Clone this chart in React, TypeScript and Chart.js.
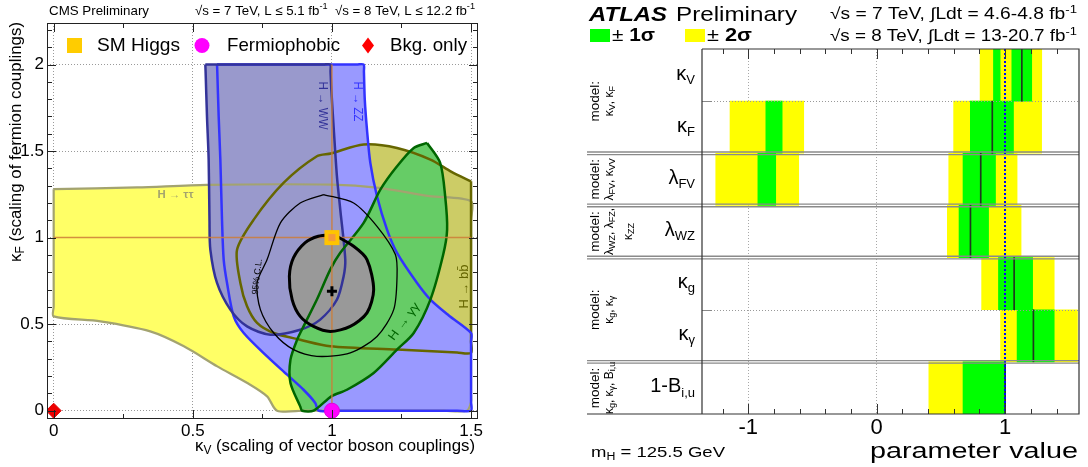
import React, { useEffect, useRef } from 'react';
import { Chart, registerables } from 'chart.js';

Chart.register(...registerables);

const FONT = '"Liberation Sans", Arial, Helvetica, sans-serif';

// ================= CMS panel: kappa_V vs kappa_F =================
const kVTicks = [0, 0.5, 1, 1.5];
const kFTicks = [0, 0.5, 1, 1.5, 2];

const tauContour: number[][] = [
  [0, 1.28], [0.3, 1.29], [0.55, 1.305], [1.0, 1.306], [1.17, 1.287], [1.35, 1.24], [1.5, 1.21],
  [1.5, 1.1], [1.5, 0.1], [1.5, 0.05], [1.485, 0], [1.4, 0], [0.9, 0], [0.803, 0],
  [0.767, 0.083], [0.696, 0.16], [0.588, 0.256], [0.468, 0.372], [0.347, 0.458], [0.168, 0.516],
  [0, 0.545], [0, 0.6], [0, 1.2], [0, 1.28],
];
const bbContour: number[][] = [
  [1.5, 1.325], [1.43, 1.38], [1.354, 1.451], [1.234, 1.518], [1.114, 1.538], [0.996, 1.486],
  [0.946, 1.47], [0.826, 1.316], [0.719, 1.104], [0.659, 0.93], [0.671, 0.738], [0.695, 0.603],
  [0.731, 0.507], [0.791, 0.449], [0.886, 0.41], [0.994, 0.372], [1.234, 0.353], [1.45, 0.336],
  [1.5, 0.334], [1.5, 0.4], [1.5, 1.25], [1.5, 1.325],
];
const zzContour: number[][] = [
  [0.587, 2.0], [0.588, 1.96], [0.593, 1.7], [0.599, 1.451], [0.605, 1.1], [0.611, 0.873], [0.623, 0.738],
  [0.647, 0.545], [0.683, 0.449], [0.767, 0.314], [0.839, 0.208], [0.898, 0.121], [0.94, 0.045],
  [0.952, 0], [1.0, 0], [1.45, 0], [1.5, 0], [1.5, 0.05], [1.5, 0.4], [1.5, 0.449], [1.42, 0.55],
  [1.354, 0.642], [1.306, 0.738], [1.234, 0.912], [1.198, 1.046], [1.162, 1.239], [1.138, 1.432],
  [1.126, 1.624], [1.118, 1.8], [1.115, 1.96], [1.114, 2.0], [1.09, 2.0], [0.65, 2.0], [0.61, 2.0], [0.587, 2.0],
];
const wwContour: number[][] = [
  [0.545, 2.0], [0.546, 1.96], [0.551, 1.7], [0.557, 1.451], [0.56, 1.1], [0.563, 0.931], [0.587, 0.738],
  [0.635, 0.584], [0.695, 0.487], [0.779, 0.439], [0.886, 0.468], [0.958, 0.526], [1.018, 0.642],
  [1.042, 0.776], [1.048, 0.873], [1.03, 1.162], [1.018, 1.354], [1.006, 1.643], [0.998, 1.85],
  [0.995, 1.96], [0.994, 2.0], [0.97, 2.0], [0.6, 2.0], [0.57, 2.0], [0.545, 2.0],
];
const gammaContour: number[][] = [
  [1.342, 1.547], [1.389, 1.432], [1.407, 1.239], [1.414, 1.046], [1.4, 0.902], [1.354, 0.642],
  [1.294, 0.449], [1.234, 0.353], [1.15, 0.218], [1.054, 0.121], [0.998, 0.083], [0.934, 0],
  [0.893, 0], [0.886, 0.025], [0.851, 0.16], [0.851, 0.295], [0.875, 0.41], [0.898, 0.487],
  [0.946, 0.642], [0.994, 0.815], [1.03, 0.912], [1.114, 1.085], [1.174, 1.277], [1.234, 1.412],
  [1.294, 1.518], [1.342, 1.547],
];
const comb68Contour: number[][] = [
  [1.006, 1.017], [1.078, 0.95], [1.126, 0.873], [1.15, 0.699], [1.126, 0.565], [1.066, 0.487],
  [0.994, 0.458], [0.934, 0.487], [0.886, 0.545], [0.857, 0.642], [0.847, 0.776], [0.862, 0.884],
  [0.904, 0.971], [0.951, 1.008], [1.006, 1.017],
];
const comb95Contour: number[][] = [
  [0.97, 1.249], [1.078, 1.2], [1.162, 1.065], [1.228, 0.902], [1.234, 0.776], [1.222, 0.584],
  [1.162, 0.429], [1.066, 0.334], [0.946, 0.314], [0.862, 0.353], [0.791, 0.449], [0.743, 0.584],
  [0.731, 0.738], [0.767, 0.873], [0.815, 1.085], [0.886, 1.2], [0.97, 1.249],
];
const smLineKV: number[][] = [[1, 0], [1, 2]];
const smLineKF: number[][] = [[0, 1], [1.5, 1]];
const smHiggs: number[][] = [[1, 1]];
const fermiophobic: number[][] = [[1, 0]];
const bkgOnly: number[][] = [[0, 0]];
const bestFitCMS: number[][] = [[1.0, 0.69]];

// ================= ATLAS panel =================
const paramNames = [['κ', 'V'], ['κ', 'F'], ['λ', 'FV'], ['λ', 'WZ'], ['κ', 'g'], ['κ', 'γ'], ['1-B', 'i,u']];
const paramBest = [1.13, 0.9, 0.81, 0.73, 1.07, 1.22, 1.0];
const oneSigma: (number[] | null)[] = [[1.052, 1.207], [0.729, 1.065], [0.672, 0.925], [0.641, 0.871], [0.948, 1.214], [1.093, 1.382], [0.672, 1.0]];
const oneSigmaB: (number[] | null)[] = [[0.909, 0.961], [-0.863, -0.736], [-0.925, -0.786], null, null, null, null];
const twoSigma: (number[] | null)[] = [[0.805, 1.285], [0.599, 1.284], [0.561, 1.093], [0.55, 1.124], [0.817, 1.382], [0.964, 1.563], [0.406, 1.0]];
const twoSigmaB: (number[] | null)[] = [null, [-1.142, -0.568], [-1.253, -0.607], null, null, null, null];
const paramTicks = [-1, 0, 1];

// ---------- text helper ----------
type Seg = { t: string; s: number; dy?: number; b?: boolean; i?: boolean };
const fontOf = (g: Seg) => `${g.i ? 'italic ' : ''}${g.b ? 'bold ' : ''}${g.s}px ${FONT}`;
function drawText(ctx: any, segs: Seg[], x: number, y: number, opt: any = {}) {
  const align = opt.align || 'left';
  ctx.save();
  ctx.translate(x, y);
  if (opt.rot) ctx.rotate(opt.rot);
  ctx.fillStyle = opt.color || '#000';
  ctx.textBaseline = 'middle';
  ctx.textAlign = 'left';
  const ws = segs.map((g) => { ctx.font = fontOf(g); return ctx.measureText(g.t).width; });
  const total = ws.reduce((p, q) => p + q, 0);
  const sx = opt.fit ? opt.fit / total : 1;
  const w = total * sx;
  const start = align === 'left' ? 0 : align === 'right' ? -w : -w / 2;
  ctx.translate(start, 0);
  ctx.scale(sx, 1);
  let cx = 0;
  segs.forEach((g, k) => { ctx.font = fontOf(g); ctx.fillText(g.t, cx, g.dy || 0); cx += ws[k]; });
  ctx.restore();
}

const toXY = (pts: number[][]) => pts.map(([x, y]) => ({ x, y }));
const contour = (pts: number[][], fill: string | null, line: string, lw: number, tension = 0.28) => ({
  data: toXY(pts), showLine: true, fill: fill ? 'shape' : false, backgroundColor: fill || 'rgba(0,0,0,0)',
  borderColor: line, borderWidth: lw, pointRadius: 0, tension, borderJoinStyle: 'round',
});
const marker = (pts: number[][], style: string, r: number, bg: string, bc: string, bw: number) => ({
  data: toXY(pts), showLine: false, fill: false, pointStyle: style, pointRadius: r,
  pointBackgroundColor: bg, pointBorderColor: bc, pointBorderWidth: bw,
});

const cmsDecor = {
  id: 'cmsDecor',
  afterDraw(chart: any) {
    const { ctx, chartArea: a } = chart;
    const xs = chart.scales.x, ys = chart.scales.y;
    const X = (v: number) => xs.getPixelForValue(v);
    const Y = (v: number) => ys.getPixelForValue(v);
    ctx.save();
    ctx.strokeStyle = '#222'; ctx.lineWidth = 1;
    ctx.beginPath();
    for (let k = 0; k <= 6; k++) {
      const px = Math.round(X(k * 0.25)) + 0.5; const L = k % 2 === 0 ? 9 : 5;
      ctx.moveTo(px, a.bottom); ctx.lineTo(px, a.bottom - L);
      ctx.moveTo(px, a.top); ctx.lineTo(px, a.top + L);
    }
    for (let k = 0; k <= 22; k++) {
      const py = Math.round(Y(k * 0.1)) + 0.5; const L = k % 5 === 0 ? 9 : 5;
      ctx.moveTo(a.left, py); ctx.lineTo(a.left + L, py);
      ctx.moveTo(a.right, py); ctx.lineTo(a.right - L, py);
    }
    ctx.stroke();
    ctx.strokeRect(Math.round(a.left) + 0.5, Math.round(a.top) + 0.5, Math.round(a.right - a.left) - 1, Math.round(a.bottom - a.top) - 1);

    // channel labels
    drawText(ctx, [{ t: 'H → ττ', s: 10, b: true }], X(0.373), Y(1.243), { color: '#a3a36e', fit: 36 });
    drawText(ctx, [{ t: 'H → WW', s: 12 }], X(0.966), Y(1.763), { align: 'center', rot: Math.PI / 2, color: '#333399', fit: 48 });
    drawText(ctx, [{ t: 'H → ZZ', s: 12 }], X(1.091), Y(1.786), { align: 'center', rot: Math.PI / 2, color: '#3333ff', fit: 40 });
    drawText(ctx, [{ t: 'H → γγ', s: 12 }], X(1.26), Y(0.514), { align: 'center', rot: -0.93, color: '#006600', fit: 44 });
    drawText(ctx, [{ t: 'H → bb\u0304', s: 12 }], X(1.476), Y(0.717), { align: 'center', rot: -Math.PI / 2, color: '#666600', fit: 44 });
    drawText(ctx, [{ t: '95% C.L.', s: 9 }], X(0.732), Y(0.775), { align: 'center', rot: -1.45, color: '#000', fit: 36 });

    // legend
    ctx.fillStyle = '#ffcc00'; ctx.fillRect(67, 38, 15, 15);
    ctx.fillStyle = '#ff00ff'; ctx.beginPath(); ctx.arc(202, 45.5, 7.5, 0, Math.PI * 2); ctx.fill();
    ctx.fillStyle = '#ff0000'; ctx.beginPath();
    ctx.moveTo(368, 37.5); ctx.lineTo(374, 45.5); ctx.lineTo(368, 53.5); ctx.lineTo(362, 45.5); ctx.closePath(); ctx.fill();
    drawText(ctx, [{ t: 'SM Higgs', s: 18.5 }], 97, 46, { fit: 83 });
    drawText(ctx, [{ t: 'Fermiophobic', s: 18.5 }], 227, 46, { fit: 113 });
    drawText(ctx, [{ t: 'Bkg. only', s: 18.5 }], 390, 46, { fit: 77 });

    // header
    drawText(ctx, [{ t: 'CMS Preliminary', s: 13 }], 49, 11, { fit: 100 });
    drawText(ctx, [
      { t: '√s = 7 TeV, L ≤ 5.1 fb', s: 13 }, { t: '-1', s: 9, dy: -4 },
      { t: '  √s = 8 TeV, L ≤ 12.2 fb', s: 13 }, { t: '-1', s: 9, dy: -4 },
    ], 475, 11, { align: 'right', fit: 280 });

    // axis titles
    drawText(ctx, [{ t: 'κ', s: 17 }, { t: 'V', s: 12, dy: 5 }, { t: ' (scaling of vector boson couplings)', s: 17 }], 475, 446, { align: 'right', fit: 280 });
    drawText(ctx, [{ t: 'κ', s: 17 }, { t: 'F', s: 12, dy: 5 }, { t: ' (scaling of fermion couplings)', s: 17 }], 16, 22, { align: 'right', rot: -Math.PI / 2, fit: 240 });
    ctx.restore();
  },
};

const atlasDecor = {
  id: 'atlasDecor',
  afterDatasetsDraw(chart: any) {
    const { ctx, chartArea: a } = chart;
    const X = (v: number) => chart.scales.x.getPixelForValue(v);
    ctx.save();
    ctx.strokeStyle = '#0000ff'; ctx.lineWidth = 2; ctx.setLineDash([2, 2]);
    ctx.beginPath(); ctx.moveTo(Math.round(X(1)), a.top); ctx.lineTo(Math.round(X(1)), a.bottom); ctx.stroke();
    ctx.restore();
  },
  afterDraw(chart: any) {
    const { ctx, chartArea: a } = chart;
    const xs = chart.scales.x, ys = chart.scales.y;
    const X = (v: number) => xs.getPixelForValue(v);
    const n = paramNames.length;
    const band = (a.bottom - a.top) / n;
    const rowTop = (i: number) => ys.getPixelForValue(i) - band / 2;
    const colL = 27;
    ctx.save();
    // dotted separators inside model groups
    ctx.strokeStyle = '#999'; ctx.lineWidth = 1; ctx.setLineDash([1, 2]);
    [1, 5].forEach((i) => { const py = Math.round(rowTop(i)) + 0.5; ctx.beginPath(); ctx.moveTo(a.left, py); ctx.lineTo(a.right, py); ctx.stroke(); });
    ctx.setLineDash([]);
    ctx.strokeStyle = '#888';
    [1, 5].forEach((i) => { const py = Math.round(rowTop(i)) + 0.5; ctx.beginPath(); ctx.moveTo(a.left, py); ctx.lineTo(a.left + 10, py); ctx.stroke(); });
    // model group separators (double lines)
    ctx.strokeStyle = '#8a8a8a'; ctx.lineWidth = 1.3;
    [2, 3, 4, 6].forEach((i) => {
      const py = rowTop(i);
      ctx.beginPath(); ctx.moveTo(colL, py - 1.3); ctx.lineTo(a.right, py - 1.3); ctx.moveTo(colL, py + 1.3); ctx.lineTo(a.right, py + 1.3); ctx.stroke();
    });
    // frame
    ctx.strokeStyle = '#333'; ctx.lineWidth = 1.2;
    ctx.beginPath();
    ctx.moveTo(a.left, a.top); ctx.lineTo(a.right, a.top); ctx.lineTo(a.right, a.bottom); ctx.lineTo(colL, a.bottom);
    ctx.moveTo(a.left, a.top); ctx.lineTo(a.left, a.bottom);
    ctx.stroke();
    // ticks
    ctx.lineWidth = 1; ctx.strokeStyle = '#333';
    ctx.beginPath();
    for (let k = -6; k <= 7; k++) {
      const v = k * 0.2; const px = Math.round(X(v)) + 0.5; const L = k % 5 === 0 ? 10 : 5;
      ctx.moveTo(px, a.bottom); ctx.lineTo(px, a.bottom - L);
      ctx.moveTo(px, a.top); ctx.lineTo(px, a.top + L);
    }
    ctx.stroke();

    // row labels
    paramNames.forEach(([m, s], i) => {
      const cy = ys.getPixelForValue(i);
      drawText(ctx, [{ t: m, s: 20 }, { t: s, s: 13, dy: 6 }], 135, cy - 1, { align: 'right' });
    });
    // model labels
    const k = (sub: string): Seg[] => [{ t: 'κ', s: 12 }, { t: sub, s: 9, dy: 3 }];
    const l = (sub: string): Seg[] => [{ t: 'λ', s: 12 }, { t: sub, s: 9, dy: 3 }];
    const c: Seg = { t: ', ', s: 12 };
    const groups: { rows: number[]; lines: Seg[][] }[] = [
      { rows: [0, 1], lines: [[...k('V'), c, ...k('F')]] },
      { rows: [2, 2], lines: [[...l('FV'), c, ...k('VV')]] },
      { rows: [3, 3], lines: [[...l('WZ'), c, ...l('FZ'), { t: ',', s: 12 }], k('ZZ')] },
      { rows: [4, 5], lines: [[...k('g'), c, ...k('γ')]] },
      { rows: [6, 6], lines: [[...k('g'), c, ...k('γ'), c, { t: 'B', s: 12 }, { t: 'i,u', s: 9, dy: 3 }]] },
    ];
    groups.forEach((g) => {
      const cy = (rowTop(g.rows[0]) + rowTop(g.rows[1]) + band) / 2;
      drawText(ctx, [{ t: 'model:', s: 13.5 }], 35, cy, { align: 'center', rot: -Math.PI / 2 });
      g.lines.forEach((ln, j) => drawText(ctx, ln, 50 + j * 19, cy, { align: 'center', rot: -Math.PI / 2 }));
    });

    // header
    drawText(ctx, [{ t: 'ATLAS', s: 21, b: true, i: true }], 29, 15, { fit: 78 });
    drawText(ctx, [{ t: 'Preliminary', s: 21 }], 116, 15, { fit: 121 });
    drawText(ctx, [{ t: '√s = 7 TeV, ∫Ldt = 4.6-4.8 fb', s: 16 }, { t: '-1', s: 11, dy: -5 }], 517, 15, { align: 'right', fit: 247 });
    drawText(ctx, [{ t: '√s = 8 TeV, ∫Ldt = 13-20.7 fb', s: 16 }, { t: '-1', s: 11, dy: -5 }], 517, 37, { align: 'right', fit: 247 });
    ctx.fillStyle = '#00ff00'; ctx.fillRect(30, 29, 20, 13);
    ctx.fillStyle = '#ffff00'; ctx.fillRect(125, 29, 20, 13);
    drawText(ctx, [{ t: '± ', s: 18 }, { t: '1σ', s: 18, b: true }], 52, 36, { fit: 43 });
    drawText(ctx, [{ t: '± ', s: 18 }, { t: '2σ', s: 18, b: true }], 147, 36, { fit: 45 });
    // footer
    drawText(ctx, [{ t: 'm', s: 15 }, { t: 'H', s: 10, dy: 4 }, { t: ' = 125.5 GeV', s: 15 }], 31, 453, { fit: 134 });
    drawText(ctx, [{ t: 'parameter value', s: 22 }], 518, 452, { align: 'right', fit: 208 });
    ctx.restore();
  },
};

export default function App() {
  const leftRef = useRef<HTMLCanvasElement>(null);
  const rightRef = useRef<HTMLCanvasElement>(null);

  useEffect(() => {
    const orange = 'rgba(205,125,55,0.85)';
    const left = new Chart(leftRef.current as HTMLCanvasElement, {
      type: 'line',
      data: {
        datasets: [
          marker(bestFitCMS, 'cross', 5, '#000', '#000', 3),
          marker(bkgOnly, 'rectRot', 7.5, '#ee0000', '#dd0000', 1),
          marker(fermiophobic, 'circle', 7.5, '#ff00ff', '#e000e0', 1),
          marker(smHiggs, 'rect', 5, '#f59a3a', '#f59a3a', 0),
          marker(smHiggs, 'rect', 10.6, '#ffc400', '#ffc400', 0),
          contour(comb95Contour, null, '#000', 1.3),
          contour(comb68Contour, '#999999', '#000', 3),
          contour(smLineKV, null, orange, 1.5, 0),
          contour(smLineKF, null, orange, 1.5, 0),
          contour(gammaContour, '#66cc66', '#006600', 2.5),
          contour(wwContour, '#9999cc', '#333399', 2.5),
          contour(zzContour, '#9999ff', '#3333ff', 2.5),
          contour(bbContour, '#cccc66', '#666600', 2.5),
          contour(tauContour, '#ffff66', '#a3a370', 2.2),
        ] as any,
      },
      options: {
        responsive: false, animation: false, events: [],
        layout: { padding: { top: 23, right: 42, left: 0, bottom: 0 } },
        plugins: { legend: { display: false }, tooltip: { enabled: false }, filler: { drawTime: 'beforeDatasetsDraw' } as any },
        scales: {
          x: {
            type: 'linear', min: -0.024, max: 1.525,
            afterBuildTicks: (s: any) => { s.ticks = kVTicks.map((v) => ({ value: v })); },
            afterFit: (s: any) => { s.height = 48; },
            ticks: { font: { family: FONT, size: 17 }, color: '#000', padding: 2, maxRotation: 0, autoSkip: false, callback: (v: any) => String(v) },
            grid: { color: '#9a9a9a', lineWidth: 1, drawTicks: false },
            border: { display: false, dash: [1, 2] },
          },
          y: {
            type: 'linear', min: -0.048, max: 2.24,
            afterBuildTicks: (s: any) => { s.ticks = kFTicks.map((v) => ({ value: v })); },
            afterFit: (s: any) => { s.width = 47; },
            ticks: { font: { family: FONT, size: 17 }, color: '#000', padding: 3, autoSkip: false, callback: (v: any) => String(v) },
            grid: { color: '#9a9a9a', lineWidth: 1, drawTicks: false },
            border: { display: false, dash: [1, 2] },
          },
        },
      } as any,
      plugins: [cmsDecor],
    });

    const barCommon = { grouped: false, barPercentage: 1, categoryPercentage: 1, borderWidth: 0, borderSkipped: false };
    const right = new Chart(rightRef.current as HTMLCanvasElement, {
      type: 'bar',
      data: {
        labels: paramNames.map((p) => p.join('')),
        datasets: [
          { ...barCommon, data: paramBest.map((v) => [v - 0.004, v + 0.004]), backgroundColor: '#1e3a1e' },
          { ...barCommon, data: oneSigma, backgroundColor: '#00ff00' },
          { ...barCommon, data: oneSigmaB, backgroundColor: '#00ff00' },
          { ...barCommon, data: twoSigma, backgroundColor: '#ffff00' },
          { ...barCommon, data: twoSigmaB, backgroundColor: '#ffff00' },
        ] as any,
      },
      options: {
        indexAxis: 'y', responsive: false, animation: false, events: [],
        layout: { padding: { top: 49, right: 9, left: 0, bottom: 0 } },
        plugins: { legend: { display: false }, tooltip: { enabled: false } },
        scales: {
          x: {
            type: 'linear', min: -1.36, max: 1.575,
            afterBuildTicks: (s: any) => { s.ticks = paramTicks.map((v) => ({ value: v })); },
            afterFit: (s: any) => { s.height = 53; },
            ticks: { font: { family: FONT, size: 22 }, color: '#000', padding: 1, maxRotation: 0, autoSkip: false, callback: (v: any) => (v < 0 ? '-' + Math.abs(v) : String(v)) },
            grid: { color: (c: any) => (c.tick && c.tick.value === 1 ? 'rgba(0,0,0,0)' : '#a8a8a8'), lineWidth: 1, drawTicks: false },
            border: { display: false, dash: [1, 2] },
          },
          y: {
            type: 'category',
            afterFit: (s: any) => { s.width = 142; },
            ticks: { display: false },
            grid: { display: false, drawTicks: false },
            border: { display: false },
          },
        },
      } as any,
      plugins: [atlasDecor],
    });

    return () => { left.destroy(); right.destroy(); };
  }, []);

  return (
    <div style={{ position: 'absolute', left: 0, top: 0, width: 1088, height: 467, background: '#fff', overflow: 'hidden' }}>
      <canvas ref={leftRef} width={520} height={467} style={{ position: 'absolute', left: 0, top: 0, width: 520, height: 467 }} />
      <canvas ref={rightRef} width={528} height={467} style={{ position: 'absolute', left: 560, top: 0, width: 528, height: 467 }} />
    </div>
  );
}
